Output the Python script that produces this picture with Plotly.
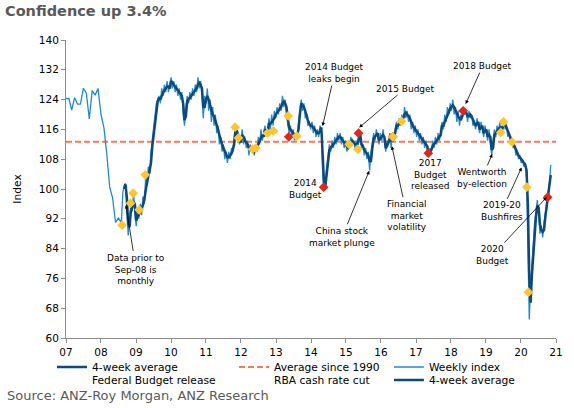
import pandas as pd
import plotly.graph_objects as go

# ---------------- data ----------------
monthly_start = "2007-01-01"          # data prior to Sep-08 is monthly
monthly_index = [124.3, 124.3, 121.2, 124.5, 122.8, 122.8, 127.0, 125.8, 118.8, 126.4,
                 125.2, 127.0, 120.0, 116.4, 109.6, 100.5, 97.6, 91.0, 92.2, 91.0]

weekly_start = "2008-08-16"           # weekly index, read every second week
weekly_2008 = [99, 101, 101.5, 94, 87.5, 92, 96, 94, 99, 93]
weekly_2009 = [90, 95, 92, 96, 93, 98, 96, 103, 101, 106, 104, 110, 113, 116, 120, 123,
               124, 125, 123, 127, 125, 128, 126, 129, 126, 128]
weekly_2010 = [130, 127, 129, 126, 128, 125, 127, 124, 126, 120, 117, 122, 125, 123, 126, 124,
               127, 125, 128, 126, 130, 127, 129, 125, 119, 125]
weekly_2011 = [123, 127, 121, 124, 118, 122, 117, 120, 115, 117, 112, 114, 110, 112, 108, 110,
               107, 110, 108, 111, 110, 114, 117, 114, 115, 112]
weekly_2012 = [113, 116, 112, 114, 111, 113, 109, 112, 110, 111, 109, 112, 110, 114, 112, 116,
               113, 115, 117, 114, 116, 119, 116, 120, 117, 121]
weekly_2013 = [119, 122, 120, 123, 121, 125, 122, 124, 120, 118, 115, 117, 114, 116, 113, 115,
               114, 118, 122, 124, 121, 123, 119, 120, 117, 118]
weekly_2014 = [116, 118, 115, 117, 114, 116, 114, 117, 116, 104, 99.5, 102, 106, 109, 112, 110,
               113, 111, 114, 112, 115, 113, 115, 112, 114, 111]
weekly_2015 = [113, 110, 112, 111, 114, 112, 113, 111, 113, 111, 116, 113, 111, 112, 109, 111,
               108, 110, 105, 110, 112, 115, 113, 116, 114, 112]
weekly_2016 = [115, 113, 116, 112, 110, 113, 112, 115, 111, 115, 114, 116, 118, 116, 119, 117,
               120, 118, 122, 119, 121, 118, 120, 116, 118, 115]
weekly_2017 = [117, 114, 116, 113, 115, 112, 114, 111, 113, 110, 109, 111, 110, 113, 111, 114,
               112, 115, 113, 116, 118, 116, 120, 118, 122, 120]
weekly_2018 = [123, 121, 124, 120, 122, 118, 121, 117, 120, 119, 122, 120, 121, 118, 121, 119,
               120, 117, 118, 116, 119, 117, 115, 118, 116, 114]
weekly_2019 = [117, 115, 113, 116, 112, 109, 113, 116, 114, 117, 115, 118, 115, 117, 119, 116,
               117, 114, 115, 112, 113, 111, 112, 109, 110, 108]
weekly_2020 = [109, 107, 108, 106, 107, 103, 88, 65, 74, 80, 86, 91, 94, 97, 93, 88,
               90, 87, 91, 94, 97, 99, 101, 106.5]

avg_since_1990 = 112.7

budget_dates = ["2013-05-14", "2014-05-13", "2015-05-12", "2016-05-03", "2017-05-09",
                "2018-05-08", "2020-10-06"]
budget_values = [114.0, 100.5, 115.0, 114.0, 109.6, 121.0, 97.8]

rba_dates = ["2008-08-09", "2008-11-04", "2008-12-02", "2009-02-03", "2009-04-07",
             "2011-11-01", "2011-12-06", "2012-05-01", "2012-06-05", "2012-10-02",
             "2012-12-04", "2013-05-07", "2013-08-06", "2015-02-03", "2015-05-05",
             "2016-05-03", "2016-08-02", "2019-06-04", "2019-07-02", "2019-10-01",
             "2020-03-03", "2020-03-19"]
rba_values = [90.3, 96.2, 98.9, 94.4, 103.8,
              116.6, 113.7, 110.7, 111.0, 115.0,
              115.6, 119.6, 114.2, 112.0, 110.7,
              114.0, 118.2, 115.2, 118.0, 112.6,
              100.5, 72.3]

x_range = ["2007-01-01", "2021-01-01"]
y_range = [60, 140]

# ---------------- build series ----------------
weekly_index = (weekly_2008 + weekly_2009 + weekly_2010 + weekly_2011 + weekly_2012 +
                weekly_2013 + weekly_2014 + weekly_2015 + weekly_2016 + weekly_2017 +
                weekly_2018 + weekly_2019 + weekly_2020)
monthly_dates = pd.date_range(monthly_start, periods=len(monthly_index), freq="MS")
weekly_dates = pd.date_range(weekly_start, periods=len(weekly_index), freq="14D")
four_week = pd.Series(weekly_index).rolling(2).mean()   # 4 weeks = 2 fortnightly readings

light_x = list(monthly_dates) + list(weekly_dates)
light_y = monthly_index + weekly_index

FONT = "DejaVu Sans"
DARK = "#0D4A7B"
LIGHT = "#2389CD"
SALMON = "#F37B5C"
RED = "#E3261B"
GOLD = "#FFC531"

fig = go.Figure()
fig.add_trace(go.Scatter(x=x_range, y=[avg_since_1990, avg_since_1990], mode="lines",
                         name="Average since 1990", legend="legend2",
                         line=dict(color=SALMON, width=2, dash="6px,3px")))
fig.add_trace(go.Scatter(x=light_x, y=light_y, mode="lines", name="Weekly index",
                         legend="legend3", line=dict(color=LIGHT, width=1.3)))
fig.add_trace(go.Scatter(x=weekly_dates, y=four_week, mode="lines", name="4-week average",
                         legend="legend", legendgroup="avg4",
                         line=dict(color=DARK, width=2.5)))
fig.add_trace(go.Scatter(x=pd.to_datetime(budget_dates), y=budget_values, mode="markers",
                         name="Federal Budget release", legendgroup="budget", showlegend=False,
                         marker=dict(symbol="diamond", size=7.5, color=RED)))
fig.add_trace(go.Scatter(x=pd.to_datetime(rba_dates), y=rba_values, mode="markers",
                         name="RBA cash rate cut", legendgroup="rba", showlegend=False,
                         marker=dict(symbol="diamond", size=7.5, color=GOLD)))
# legend-only entries (the reference legend shows these without a symbol)
fig.add_trace(go.Scatter(x=[None], y=[None], mode="lines", name="Federal Budget release",
                         legend="legend4", legendgroup="budget", line=dict(width=0, color=RED)))
fig.add_trace(go.Scatter(x=[None], y=[None], mode="lines", name="RBA cash rate cut",
                         legend="legend5", legendgroup="rba", line=dict(width=0, color=GOLD)))
fig.add_trace(go.Scatter(x=[None], y=[None], mode="lines", name="4-week average",
                         legend="legend6", legendgroup="avg4", line=dict(color=DARK, width=2.5)))

# ---------------- annotations ----------------
notes = [
    # text, x, y, ax, ay, arrow
    ("Data prior to<br>Sep-08 is<br>monthly", "2008-09-18", 95.7, 10, 64, True),
    ("2014 Budget<br>leaks begin", "2014-05-02", 116.9, 12, -53, True),
    ("2015 Budget", "2015-05-19", 116.5, 46, -39, True),
    ("2018 Budget", "2018-06-03", 122.8, 17, -38, True),
    ("2014<br>Budget", "2013-11-09", 100.0, 0, 0, False),
    ("China stock<br>market plunge", "2015-09-01", 104.9, -27, 66, True),
    ("Financial<br>market<br>volatility", "2016-04-24", 111.5, 15, 69, True),
    ("2017<br>Budget<br>released", "2017-05-27", 104.0, 0, 0, False),
    ("Wentworth<br>by-election", "2019-03-07", 109.4, -10, 24, True),
    ("2019-20<br>Bushfires", "2020-01-08", 105.8, -20, 44, True),
    ("2020<br>Budget", "2020-09-26", 97.8, -54, 58, True),
]
annotations = []
for text, x, y, ax, ay, arrow in notes:
    a = dict(text=text, x=x, y=y, xref="x", yref="y", showarrow=arrow,
             font=dict(family=FONT, size=9, color="#000000"), align="center")
    if arrow:
        a.update(ax=ax, ay=ay, arrowhead=2, arrowsize=0.9, arrowwidth=0.8,
                 arrowcolor="#000000", standoff=0)
    annotations.append(a)

annotations.append(dict(text="Source: ANZ-Roy Morgan, ANZ Research", xref="paper", yref="paper",
                        x=-0.1245, y=-0.1946, xanchor="left", yanchor="middle", showarrow=False,
                        font=dict(family=FONT, size=13, color="#595959")))

legend_font = dict(family=FONT, size=10.7, color="#000000")
def leg(x, y):
    return dict(x=x, y=y, xanchor="left", yanchor="middle", orientation="v",
                bgcolor="rgba(0,0,0,0)", font=legend_font, itemwidth=30,
                tracegroupgap=0, borderwidth=0)

fig.update_layout(
    width=574, height=408,
    margin=dict(l=66, r=18, t=40, b=70, autoexpand=False),
    paper_bgcolor="white", plot_bgcolor="white",
    title=dict(text="<b>Confidence up 3.4%</b>", x=5 / 574, xanchor="left",
               y=1 - 11 / 408, yanchor="middle", xref="container", yref="container",
               font=dict(family=FONT, size=14.5, color="#595959")),
    showlegend=True,
    legend=leg(-0.0286, -0.0973),
    legend2=leg(0.3429, -0.0973),
    legend3=leg(0.659, -0.0973),
    legend4=leg(-0.0286, -0.1409),
    legend5=leg(0.3429, -0.1409),
    legend6=leg(0.659, -0.1409),
    annotations=annotations,
    xaxis=dict(type="date", range=x_range, tick0=x_range[0], dtick="M12", tickformat="%y",
               showgrid=False, zeroline=False, showline=True, linecolor="#8C8C8C",
               linewidth=1, ticks="outside", ticklen=4, tickcolor="#8C8C8C",
               tickfont=dict(family=FONT, size=10.5, color="#000000")),
    yaxis=dict(range=y_range, dtick=8, tick0=60, showgrid=False, zeroline=False,
               showline=True, linecolor="#8C8C8C", linewidth=1, ticks="outside",
               ticklen=4, tickcolor="#8C8C8C",
               tickfont=dict(family=FONT, size=10.5, color="#000000"),
               title=dict(text="Index", standoff=15,
                          font=dict(family=FONT, size=10.7, color="#000000"))),
)

fig.write_html("out.html")
